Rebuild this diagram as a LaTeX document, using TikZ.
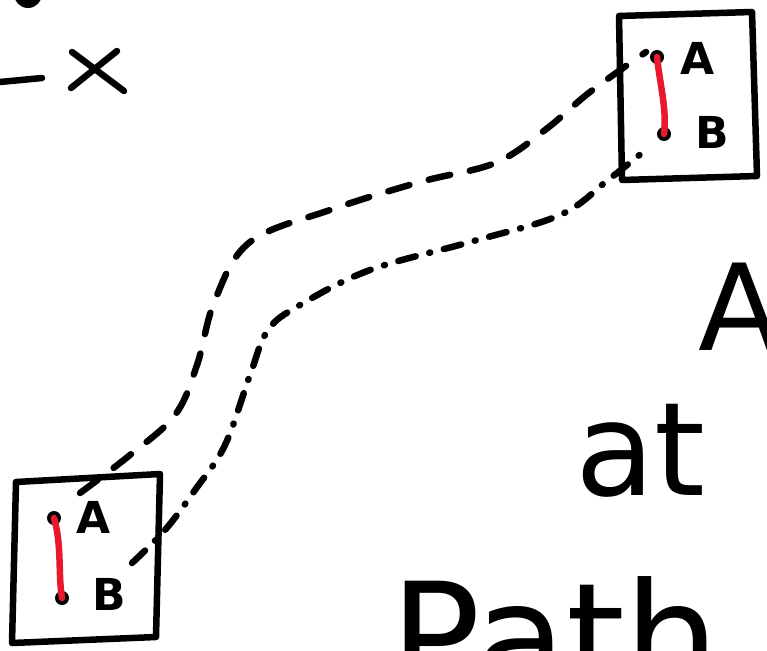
\documentclass[tikz,border=0pt]{standalone}
\usepackage{fontspec}
\setmainfont{DejaVu Sans}
\begin{document}
\begin{tikzpicture}[x=1pt,y=-1pt,
  ink/.style={line width=6.5pt,line cap=round,line join=round,black},
  redink/.style={line width=6.5pt,line cap=round,color={rgb,255:red,232;green,25;blue,44}},
  dotmark/.style={circle,fill=black,inner sep=0pt,minimum size=14pt},
  dashpath/.style={ink,dash pattern=on 22pt off 20pt},
  dotpath/.style={ink,dash pattern=on 18pt off 14pt on 1pt off 14pt},
  lbl/.style={font=\bfseries\fontsize{44}{50}\selectfont,inner sep=0pt},
  big/.style={inner sep=0pt,anchor=base west}]
\useasboundingbox (0,0) rectangle (767,650);
\fill[white] (0,0) rectangle (767,650);
% top-left fragments
\fill (28,-6) circle (14pt);
\draw[ink] (0,82) -- (42,78);
\draw[ink] (71,88) -- (117,51) (72,52) -- (124,91);
% top-right box
\draw[ink] (619,16) -- (752,12) -- (757,176) -- (622,180) -- cycle;
\node[dotmark] (a1) at (657,57) {};
\node[dotmark] (b1) at (664,134) {};
\draw[redink] (a1.center) .. controls (660,85) and (667,110) .. (b1.center);
\node[lbl] (la1) at (698,58) {A};
\node[lbl] (lb1) at (712,132) {B};
% bottom-left box
\draw[ink] (16,482) -- (160,474) -- (156,637) -- (12,643) -- cycle;
\node[dotmark] (a2) at (54,518) {};
\node[dotmark] (b2) at (62,598) {};
\draw[redink] (a2.center) .. controls (62,545) and (58,575) .. (b2.center);
\node[lbl] (la2) at (94,517) {A};
\node[lbl] (lb2) at (109,594) {B};
% connectors
\coordinate (s1) at (80,493);
\coordinate (e1) at (646,52);
\coordinate (s2) at (132,563);
\coordinate (e2) at (648,148);
\draw[dashpath] plot[smooth,tension=0.6] coordinates {(s1) (130,455) (175,415) (197,365) (215,300) (250,242) (330,210) (420,182) (495,163) (545,130) (590,92) (e1)};
\draw[dotpath] plot[smooth,tension=0.6] coordinates {(s2) (165,530) (195,490) (225,445) (250,375) (268,330) (300,305) (370,270) (470,242) (560,215) (608,180) (e2)};
% right-hand text
\node[big,font=\fontsize{120}{120}\selectfont] (tA) at (698,350) {A};
\node[big,font=\fontsize{130}{130}\selectfont] (tat) at (575,495) {at};
\node[big,font=\fontsize{150}{150}\selectfont] (tpath) at (390,690) {Path a};
\end{tikzpicture}
\end{document}
